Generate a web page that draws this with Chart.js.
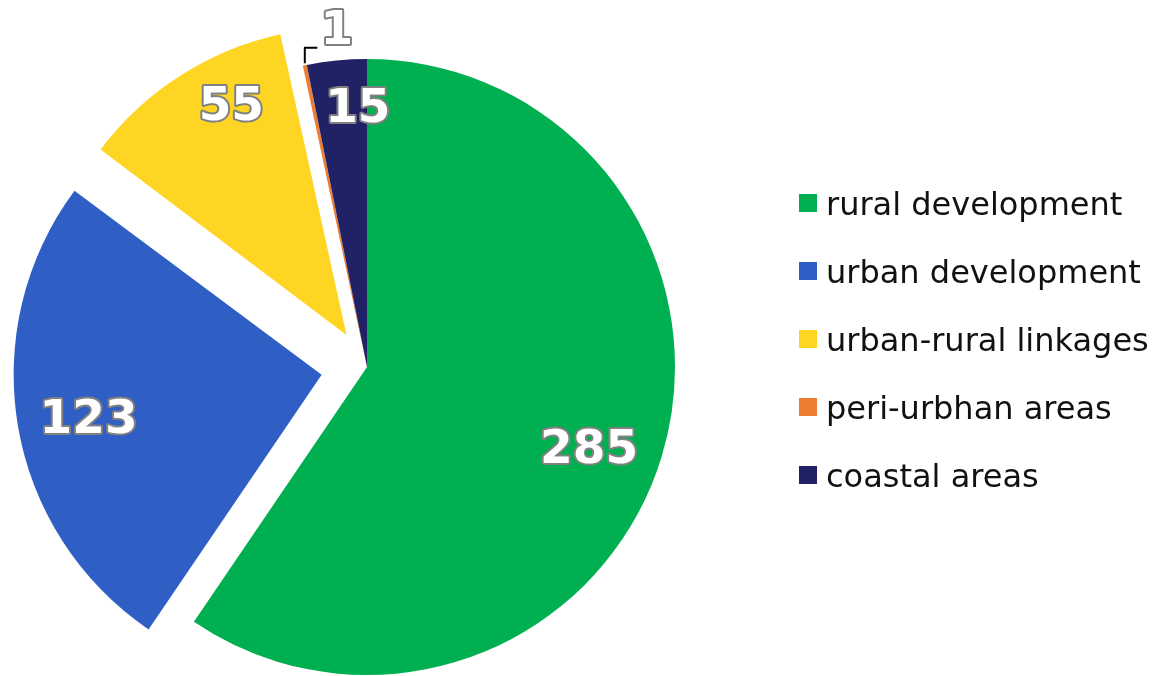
<!DOCTYPE html>
<html>
<head>
<meta charset="utf-8">
<script src="https://cdn.jsdelivr.net/npm/chart.js@4.4.1/dist/chart.umd.min.js"></script>
<style>
    body { margin: 0; background: #fff; }
    #wrap { position: relative; width: 1157px; height: 676px; }
    #legend { position: absolute; left: 799px; top: 0; font-family: "DejaVu Sans", Verdana, sans-serif; }
    .item { position: absolute; left: 0; white-space: nowrap; }
    .box { position: absolute; left: 0; width: 18px; height: 18px; }
    .txt { position: absolute; left: 27px; font-size: 32px; line-height: 32px; color: #111; }
</style>
</head>
<body>
<div id="wrap">
    <canvas id="pieChart" width="1157" height="676"></canvas>
    <div id="legend"></div>
</div>
<script>
// datos del grafico
const categorias = ["rural development", "urban development", "urban-rural linkages", "peri-urbhan areas", "coastal areas"];
const valores = [285, 123, 55, 1, 15];
const colores = ["#00b050", "#2f5fc5", "#ffd524", "#ed7d31", "#212166"];

// separacion de las porciones (px de desplazamiento real)
const separacion = [0, 46, 38, 0, 0];

// donde va cada etiqueta: fraccion del arco y fraccion del radio
const etiquetas = [
    { along: 0.516, radial: 0.77 },
    { along: 0.484, radial: 0.771 },
    { along: 0.644, radial: 0.867 },
    { along: 0.5, radial: 1.0, dx: 32, dy: -35, callout: true },
    { along: 0.82, radial: 0.84 },
];

// Chart.js dibuja el offset dividido entre 4 y agranda el radio en arcos chicos;
// aqui se corrige para que todas las porciones tengan el mismo radio
const corregirRadio = {
    id: "corregirRadio",
    afterDatasetUpdate(chart, args) {
        args.meta.data.forEach((arc) => {
            const off = (arc.options.offset || 0) / 4;
            const fix = 1 - Math.sin(Math.min(Math.PI, arc.circumference || 0));
            arc.outerRadius = arc.outerRadius - off * fix;
        });
    },
};

function centroDibujado(arc) {
    const off = (arc.options.offset || 0) / 4;
    const mitad = (arc.startAngle + arc.endAngle) / 2;
    return { x: arc.x + Math.cos(mitad) * off, y: arc.y + Math.sin(mitad) * off };
}

const pintarEtiquetas = {
    id: "pintarEtiquetas",
    afterDatasetsDraw(chart) {
        const ctx = chart.ctx;
        const meta = chart.getDatasetMeta(0);
        ctx.save();
        ctx.font = 'bold 47px "DejaVu Sans", Verdana, sans-serif';
        ctx.textAlign = "center";
        ctx.textBaseline = "middle";
        ctx.lineJoin = "round";
        meta.data.forEach((arc, i) => {
            const pos = etiquetas[i];
            const c = centroDibujado(arc);
            const ang = arc.startAngle + pos.along * (arc.endAngle - arc.startAngle);
            let x = c.x + Math.cos(ang) * arc.outerRadius * pos.radial;
            let y = c.y + Math.sin(ang) * arc.outerRadius * pos.radial;
            if (pos.callout) {
                const px = x, py = y;
                x = px + pos.dx;
                y = py + pos.dy;
                ctx.beginPath();
                ctx.strokeStyle = "#000";
                ctx.lineWidth = 2;
                ctx.moveTo(px, py - 2);
                ctx.lineTo(px, y + 17.5);
                ctx.lineTo(x - 19.5, y + 17.5);
                ctx.stroke();
            }
            const texto = String(valores[i]);
            ctx.strokeStyle = "#808080";
            ctx.lineWidth = 4;
            ctx.strokeText(texto, x, y + 1);
            ctx.fillStyle = "#ffffff";
            ctx.fillText(texto, x, y + 1);
        });
        ctx.restore();
    },
};

// leyenda en html con los items que genera Chart.js
const leyendaHtml = {
    id: "leyendaHtml",
    afterUpdate(chart) {
        const cont = document.getElementById("legend");
        cont.innerHTML = "";
        const items = chart.options.plugins.legend.labels.generateLabels(chart);
        items.forEach((item, i) => {
            const div = document.createElement("div");
            div.className = "item";
            div.style.top = (194 + 68 * i) + "px";
            div.innerHTML = `<span class="box" style="background:${item.fillStyle}"></span>` +
                `<span class="txt" style="top:-6px">${item.text}</span>`;
            cont.appendChild(div);
        });
    },
};

const ctx = document.getElementById("pieChart").getContext("2d");
new Chart(ctx, {
    type: "pie",
    data: {
        labels: categorias,
        datasets: [
            {
                data: valores,
                backgroundColor: colores,
                borderWidth: 0,
                offset: separacion.map((s) => s * 4),
            },
        ],
    },
    options: {
        responsive: false,
        animation: false,
        events: [],
        radius: 308,
        layout: { padding: { left: 0, right: 423, top: 58, bottom: 0 } },
        plugins: {
            legend: { display: false },
            tooltip: { enabled: false },
        },
    },
    plugins: [corregirRadio, pintarEtiquetas, leyendaHtml],
});
</script>
</body>
</html>
